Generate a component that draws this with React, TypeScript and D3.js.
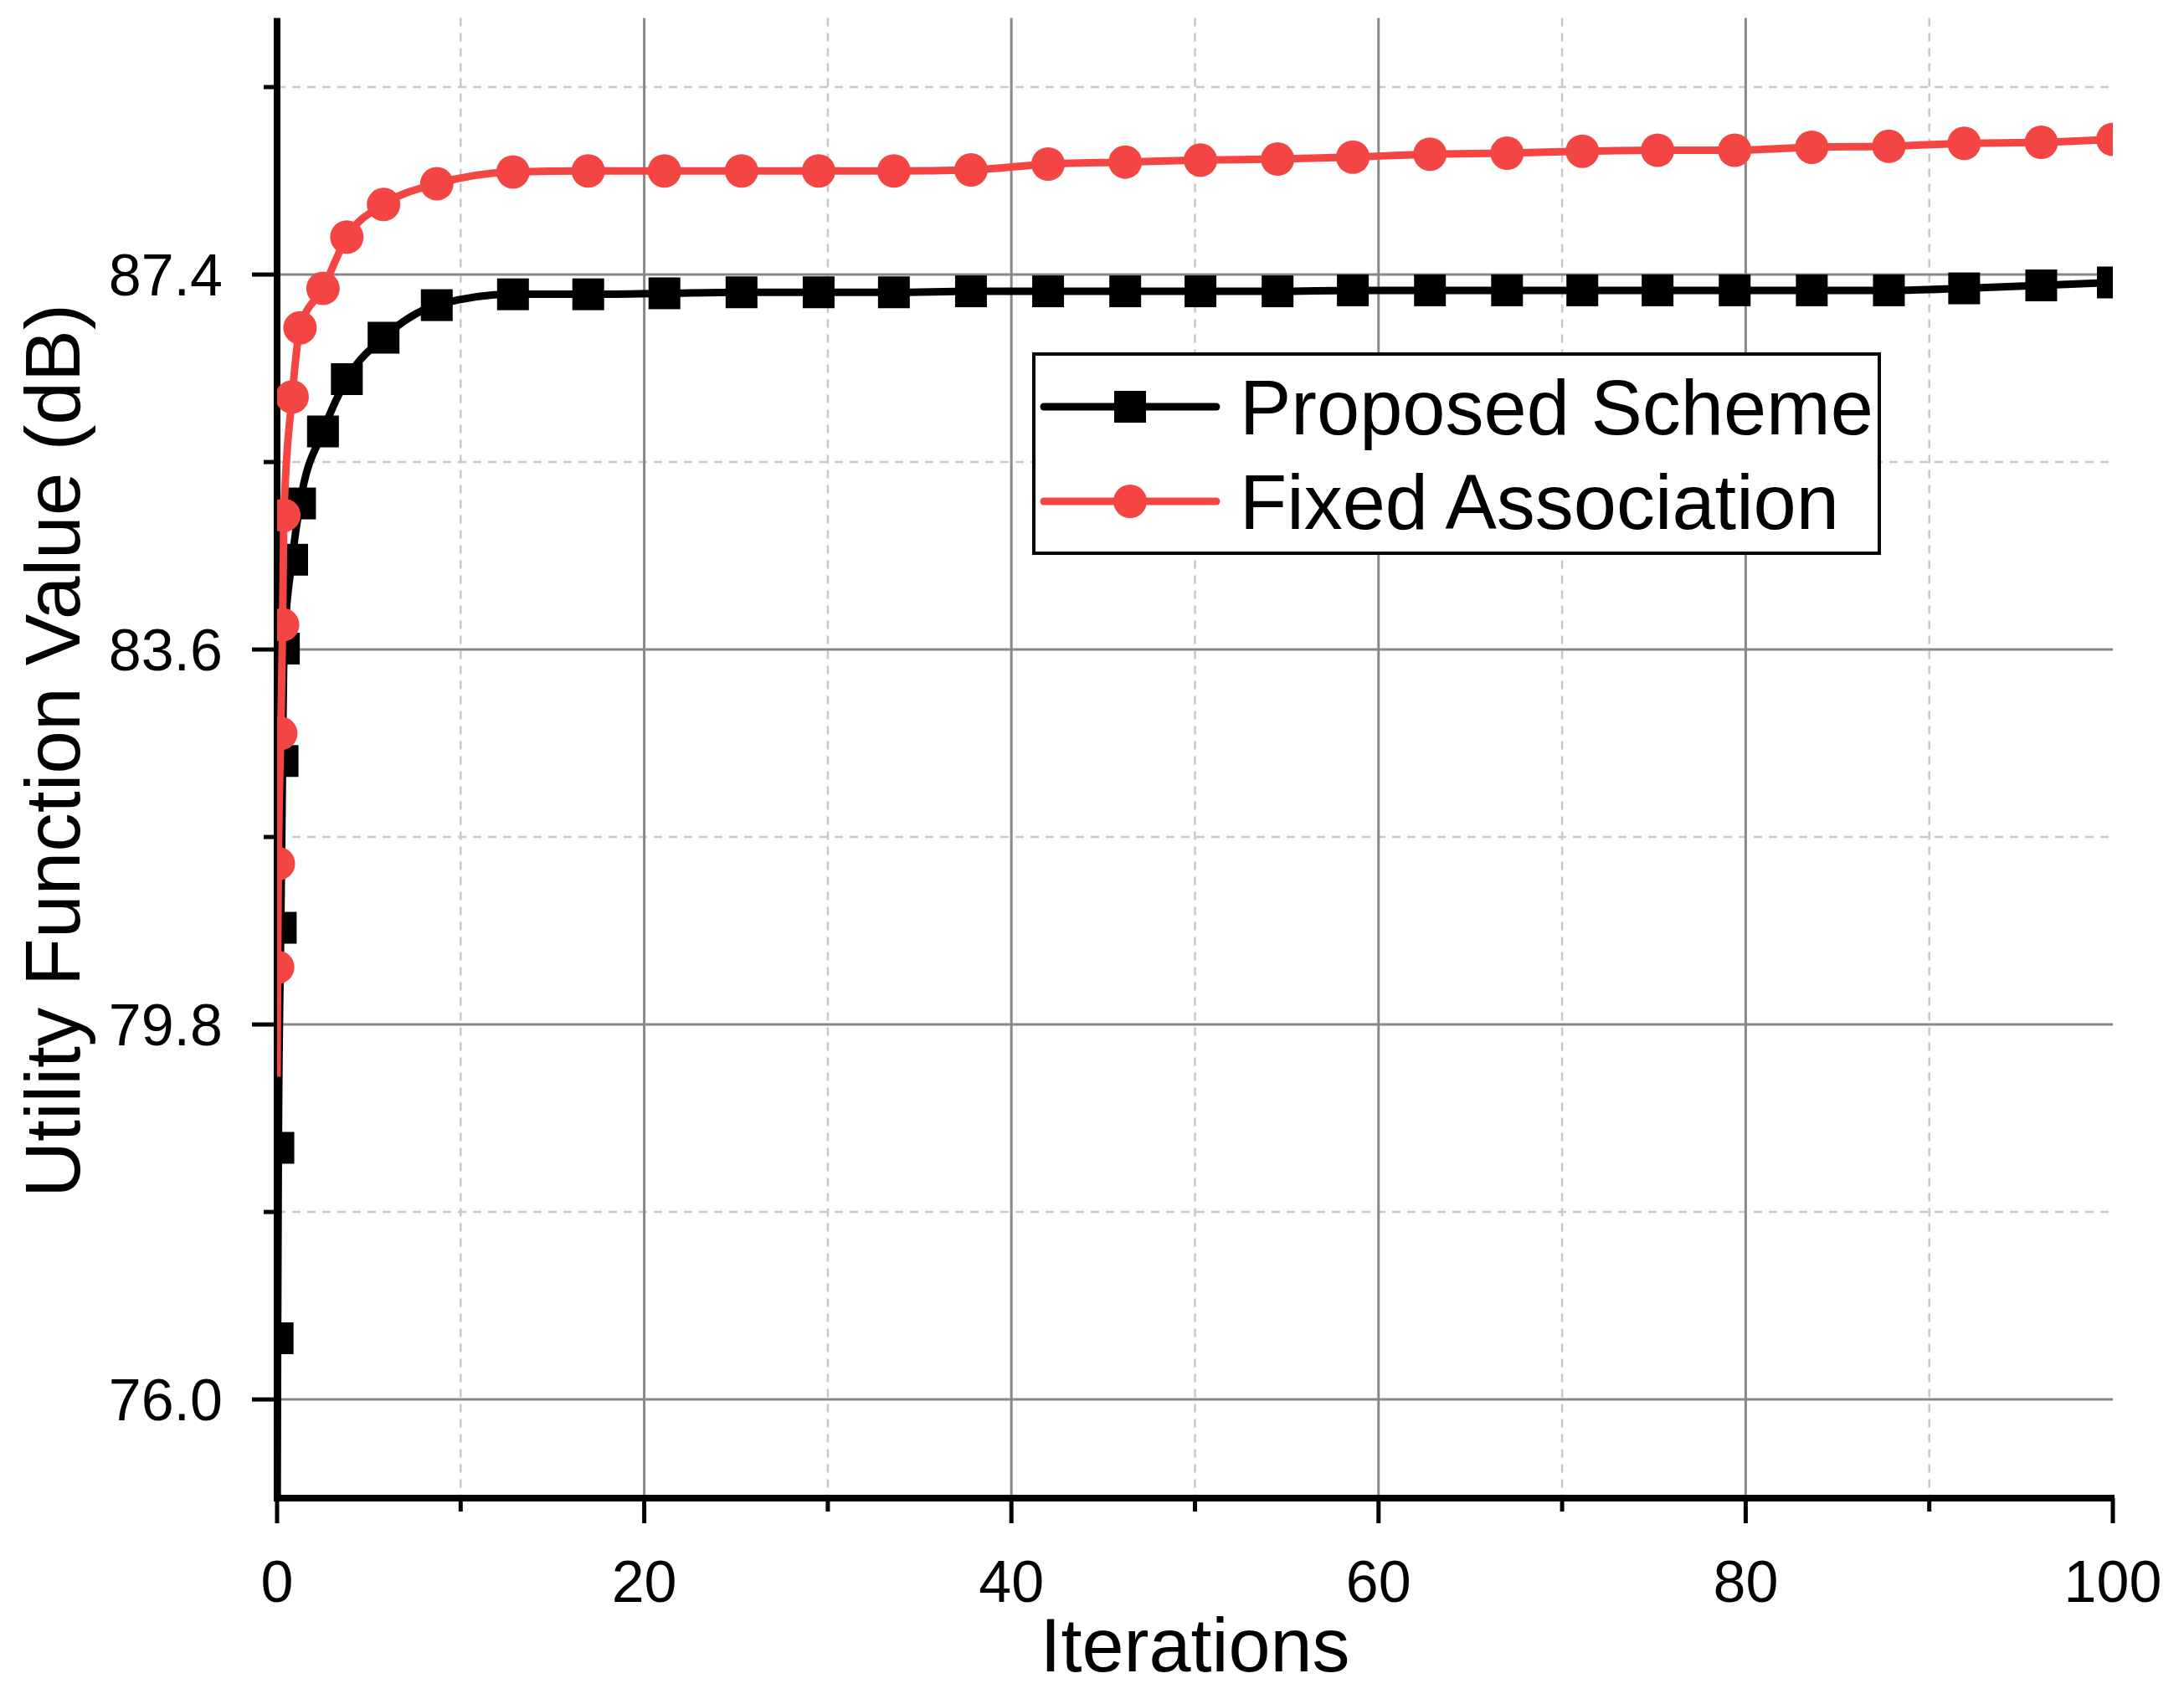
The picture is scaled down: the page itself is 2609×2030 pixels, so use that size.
import React from 'react';
import * as d3 from 'd3';

// ---- data ----
const iterations = [0.03, 0.07, 0.2, 0.3, 0.37, 0.82, 1.25, 2.5, 3.8, 5.8, 8.7, 12.85, 16.95, 21.1, 25.3, 29.5, 33.6, 37.8, 42.0, 46.2, 50.3, 54.5, 58.6, 62.8, 67.0, 71.1, 75.2, 79.4, 83.6, 87.8, 91.9, 96.1, 100];
const proposedScheme = [76.62, 78.55, 80.78, 82.47, 83.61, 84.51, 85.08, 85.81, 86.34, 86.76, 87.09, 87.20, 87.20, 87.21, 87.22, 87.22, 87.22, 87.23, 87.23, 87.23, 87.23, 87.23, 87.24, 87.24, 87.24, 87.24, 87.24, 87.24, 87.24, 87.24, 87.26, 87.29, 87.32];
const fixedAssociation = [80.38, 81.43, 82.75, 83.85, 84.96, 86.16, 86.86, 87.26, 87.78, 88.11, 88.32, 88.44, 88.45, 88.45, 88.45, 88.45, 88.45, 88.46, 88.52, 88.54, 88.56, 88.57, 88.59, 88.62, 88.63, 88.65, 88.66, 88.66, 88.69, 88.70, 88.73, 88.74, 88.77];
const proposedStart = [0, 74.5];
const fixedStart = [0, 79.27];
const xMajorTicks = [0, 20, 40, 60, 80, 100];
const xMinorTicks = [10, 30, 50, 70, 90];
const yMajorTicks = [76.0, 79.8, 83.6, 87.4];
const yMinorTicks = [77.9, 81.7, 85.5, 89.3];
const seriesNames = ['Proposed Scheme', 'Fixed Association'];
const xTitle = 'Iterations';
const yTitle = 'Utility Function Value (dB)';

const W = 2609, H = 2030;
const left = 331, right = 2524, top = 21.5, bottom = 1790;
const FONT = '"Liberation Sans", Arial, Helvetica, sans-serif';
const RED = '#F44545';

export default function App() {
  const x = d3.scaleLinear().domain([0, 100]).range([left, right]);
  const y = d3.scaleLinear().domain([75, 90]).range([bottom, top]);

  const line = d3.line<[number, number]>()
    .x(d => x(d[0])).y(d => y(d[1]))
    .curve(d3.curveMonotoneX);

  const pPts: [number, number][] = [proposedStart as [number, number], ...iterations.map((v, i) => [v, proposedScheme[i]] as [number, number])];
  const fPts: [number, number][] = [fixedStart as [number, number], ...iterations.map((v, i) => [v, fixedAssociation[i]] as [number, number])];

  const sq = 38, cr = 20;
  const lw = 9;

  const legX = 1235, legY = 423, legW = 1010, legH = 238;
  const row1 = 486, row2 = 599;

  return (
    <svg width={W} height={H} style={{ position: 'absolute', left: 0, top: 0, background: '#fff' }} fontFamily={FONT}>
      <rect x={0} y={0} width={W} height={H} fill="#fff" />
      <defs>
        <clipPath id="plotClip">
          <rect x={left} y={top} width={right - left} height={bottom - top} />
        </clipPath>
      </defs>
      {/* minor grid */}
      {xMinorTicks.map(t => (
        <line key={'xm' + t} x1={x(t)} x2={x(t)} y1={top} y2={bottom} stroke="#C8C8C8" strokeWidth={2.5} strokeDasharray="10,8" />
      ))}
      {yMinorTicks.map(t => (
        <line key={'ym' + t} x1={left} x2={right} y1={y(t)} y2={y(t)} stroke="#C8C8C8" strokeWidth={2.5} strokeDasharray="10,8" />
      ))}
      {/* major grid */}
      {xMajorTicks.filter(t => t > 0 && t < 100).map(t => (
        <line key={'xM' + t} x1={x(t)} x2={x(t)} y1={top} y2={bottom} stroke="#888" strokeWidth={3} />
      ))}
      {yMajorTicks.map(t => (
        <line key={'yM' + t} x1={left} x2={right} y1={y(t)} y2={y(t)} stroke="#888" strokeWidth={3} />
      ))}
      {/* axes */}
      <line x1={left} x2={left} y1={top} y2={bottom + 4} stroke="#000" strokeWidth={8} />
      <line x1={left - 4} x2={right + 2} y1={bottom} y2={bottom} stroke="#000" strokeWidth={8} />
      {xMajorTicks.map(t => (
        <line key={'xt' + t} x1={x(t)} x2={x(t)} y1={bottom} y2={bottom + 30} stroke="#000" strokeWidth={5} />
      ))}
      {xMinorTicks.map(t => (
        <line key={'xmt' + t} x1={x(t)} x2={x(t)} y1={bottom} y2={bottom + 16} stroke="#000" strokeWidth={5} />
      ))}
      {yMajorTicks.map(t => (
        <line key={'yt' + t} x1={left - 30} x2={left} y1={y(t)} y2={y(t)} stroke="#000" strokeWidth={5} />
      ))}
      {yMinorTicks.map(t => (
        <line key={'ymt' + t} x1={left - 16} x2={left} y1={y(t)} y2={y(t)} stroke="#000" strokeWidth={5} />
      ))}
      {/* tick labels */}
      {xMajorTicks.map(t => (
        <text key={'xl' + t} x={x(t)} y={1914} fontSize={70} textAnchor="middle" fill="#000">{t}</text>
      ))}
      {yMajorTicks.map(t => (
        <text key={'yl' + t} x={266} y={y(t)} dy="0.36em" fontSize={70} textAnchor="end" fill="#000">{t.toFixed(1)}</text>
      ))}
      {/* titles */}
      <text x={(left + right) / 2} y={1997} fontSize={90} textAnchor="middle" fill="#000">{xTitle}</text>
      <text transform={`translate(95, 897) rotate(-90)`} fontSize={93} textAnchor="middle" fill="#000">{yTitle}</text>

      {/* data */}
      <g clipPath="url(#plotClip)">
        <path d={line(pPts) || ''} fill="none" stroke="#000" strokeWidth={lw} />
        {iterations.map((v, i) => (
          <rect key={'ps' + i} x={x(v) - sq / 2} y={y(proposedScheme[i]) - sq / 2} width={sq} height={sq} fill="#000" />
        ))}
        <path d={line(fPts) || ''} fill="none" stroke={RED} strokeWidth={lw} />
        {iterations.map((v, i) => (
          <circle key={'fc' + i} cx={x(v)} cy={y(fixedAssociation[i])} r={cr} fill={RED} />
        ))}
      </g>

      {/* legend */}
      <rect x={legX} y={legY} width={legW} height={legH} fill="#fff" stroke="#000" strokeWidth={4} />
      <line x1={1247} x2={1453} y1={row1} y2={row1} stroke="#000" strokeWidth={lw} strokeLinecap="round" />
      <rect x={1350 - sq / 2} y={row1 - sq / 2} width={sq} height={sq} fill="#000" />
      <text x={1481} y={row1 + 33} fontSize={92} fill="#000">{seriesNames[0]}</text>
      <line x1={1247} x2={1453} y1={row2} y2={row2} stroke={RED} strokeWidth={lw} strokeLinecap="round" />
      <circle cx={1350} cy={row2} r={cr} fill={RED} />
      <text x={1481} y={row2 + 33} fontSize={92} fill="#000">{seriesNames[1]}</text>
    </svg>
  );
}
